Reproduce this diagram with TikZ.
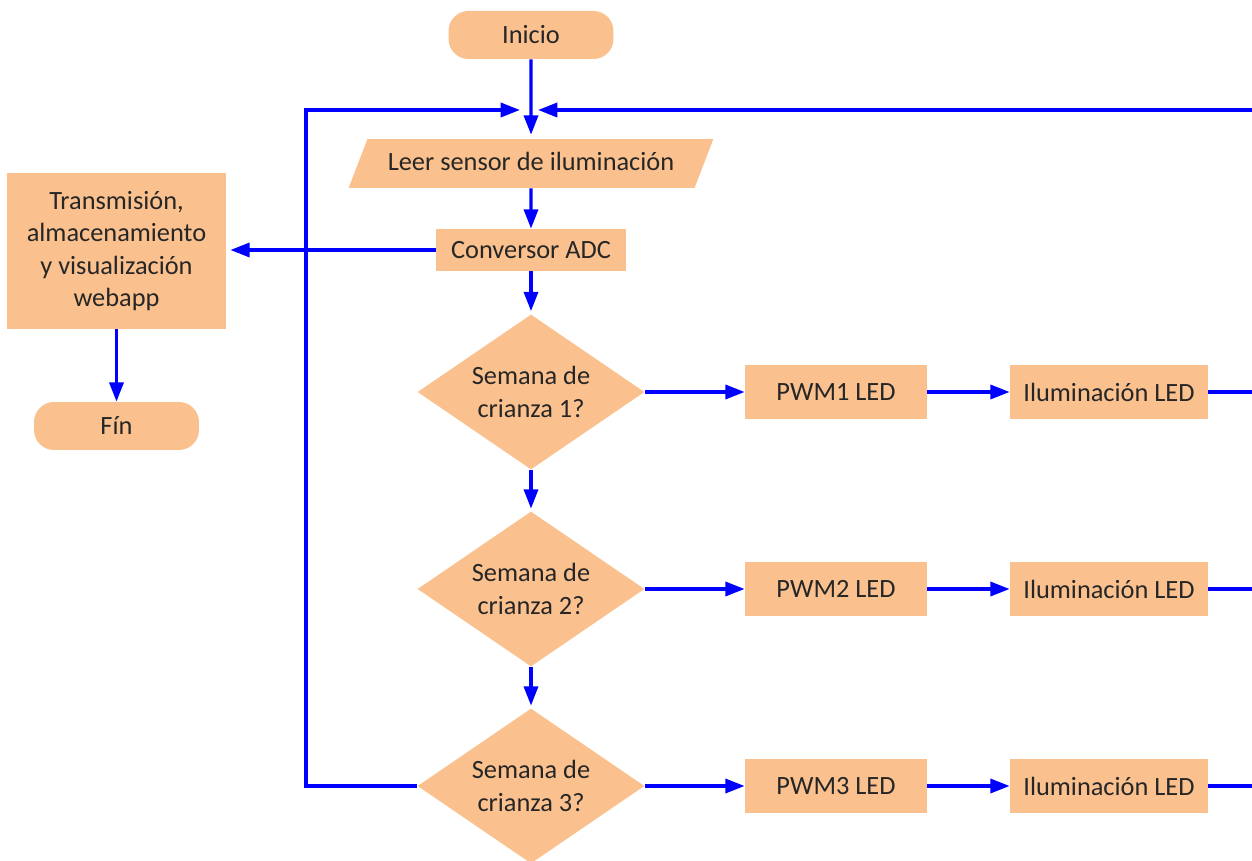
\documentclass[tikz,border=0pt]{standalone}
\usepackage{fontspec}
\setmainfont{Carlito}
\usetikzlibrary{shapes.geometric,arrows.meta}
\definecolor{peach}{RGB}{250,193,143}
\definecolor{ink}{RGB}{38,38,38}
\definecolor{flow}{RGB}{0,0,255}
\begin{document}
\begin{tikzpicture}[x=0.02cm,y=-0.02cm,
  box/.style={rectangle, fill=peach, text=ink, inner sep=0pt,
    font=\fontsize{15}{18.4}\selectfont, align=center},
  term/.style={box, rounded corners=0.4cm, minimum width=3.3cm, minimum height=0.96cm},
  proc/.style={box, minimum width=#1},
  decision/.style={box, diamond, aspect=1.47, minimum width=4.54cm, minimum height=3.1cm},
  io/.style={box, trapezium, trapezium left angle=69, trapezium right angle=111,
    text height=11pt, text depth=3pt, inner xsep=11.6pt, inner ysep=6.9pt},
  wire/.style={draw=flow, line width=1.9pt},
  link/.style={wire, -{Triangle[length=11pt,width=8pt]}}]
\clip (0,0) rectangle (1252,861);

% main column
\node[term] (inicio) at (531,35) {Inicio};
\node[io] (leer) at (531,163.5) {Leer sensor de iluminación};
\node[proc=3.8cm, minimum height=0.84cm] (adc) at (531,250) {Conversor ADC};
\node[decision] (d1) at (531,392) {Semana de\\crianza 1?};
\node[decision] (d2) at (531,589) {Semana de\\crianza 2?};
\node[decision] (d3) at (531,786) {Semana de\\crianza 3?};

% data branch on the left
\node[proc=4.38cm, minimum height=3.12cm] (web) at (116.5,251) {Transmisión,\\almacenamiento\\y visualización\\webapp};
\node[term] (fin) at (116.5,426) {Fín};

% PWM outputs
\node[proc=3.64cm, minimum height=1.1cm] (pwm1) at (836,392) {PWM1 LED};
\node[proc=3.64cm, minimum height=1.1cm] (pwm2) at (836,589) {PWM2 LED};
\node[proc=3.64cm, minimum height=1.1cm] (pwm3) at (836,786) {PWM3 LED};
\node[proc=3.96cm, minimum height=1.08cm] (il1) at (1109,392) {Iluminación LED};
\node[proc=3.96cm, minimum height=1.08cm] (il2) at (1109,589) {Iluminación LED};
\node[proc=3.96cm, minimum height=1.08cm] (il3) at (1109,786) {Iluminación LED};

% loop-back points above the sensor reading
\coordinate (lx) at (306,110);
\coordinate (rx) at (1264,110);
\coordinate (jl) at (520,110);
\coordinate (jr) at (538,110);

% connectors
\draw[link, shorten >=0.08cm] (inicio) -- (leer);
\draw[link] (leer) -- (adc);
\draw[link, shorten >=0.06cm] (adc) -- (d1);
\draw[link, shorten >=0.05cm] (d1) -- (d2);
\draw[link, shorten >=0.05cm] (d2) -- (d3);
\draw[link, shorten >=0.08cm] (adc.west) -- (web.east |- adc.west);
\draw[link] (web) -- (fin);

\draw[link] (d1) -- (pwm1);
\draw[link] (d2) -- (pwm2);
\draw[link] (d3) -- (pwm3);
\draw[link] (pwm1) -- (il1);
\draw[link] (pwm2) -- (il2);
\draw[link] (pwm3) -- (il3);

\draw[link] (d3.west) -| (lx) -- (jl);
\draw[wire] (il1.east) -| (rx);
\draw[wire] (il2.east) -| (rx);
\draw[link] (il3.east) -| (rx) -- (jr);
\end{tikzpicture}
\end{document}
